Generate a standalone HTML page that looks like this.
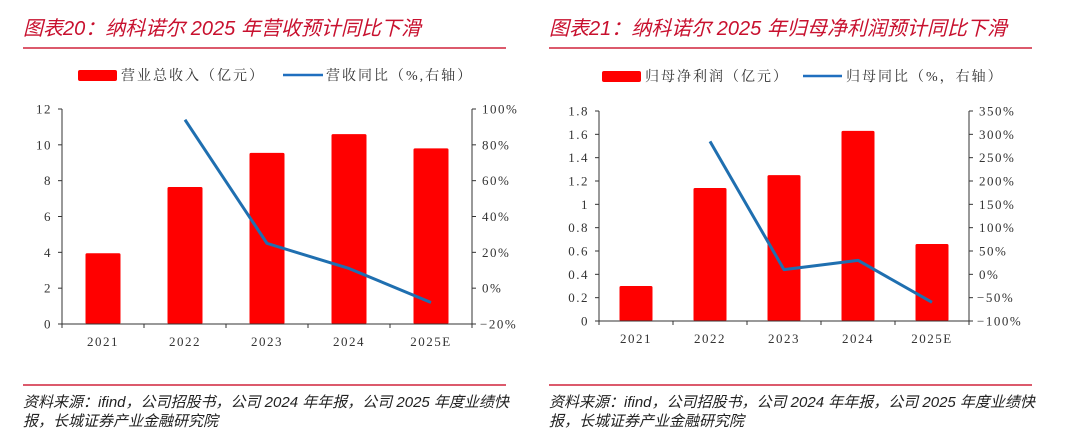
<!DOCTYPE html>
<html><head><meta charset="utf-8">
<style>
html,body{margin:0;padding:0;background:#fff;width:1080px;height:440px;overflow:hidden}
svg{display:block}
.t{font-family:"Liberation Sans","Noto Sans CJK SC",sans-serif;font-style:italic;fill:#c8102e;font-size:20px}
.s{font-family:"Liberation Sans","Noto Sans CJK SC",sans-serif;font-style:italic;fill:#222;font-size:15px}
.lg{font-family:"Liberation Serif","Noto Serif CJK SC",serif;fill:#333;font-size:14px;letter-spacing:2px}
.tk{font-family:"Liberation Serif","Noto Serif CJK SC",serif;fill:#333;font-size:13px;letter-spacing:1.5px}
</style></head><body>
<svg id="svg" width="1080" height="440" xmlns="http://www.w3.org/2000/svg">
<g>
<text class="t" x="23" y="35">图表20：纳科诺尔 2025 年营收预计同比下滑</text>
<line x1="23" y1="48" x2="506" y2="48" stroke="#d0243c" stroke-width="1.5"/>
<rect x="78" y="70" width="39" height="11" rx="2" fill="#ff0000"/>
<text class="lg" x="121" y="80">营业总收入（亿元）</text>
<line x1="283" y1="75" x2="323" y2="75" stroke="#1f6fbf" stroke-width="2.5"/>
<text class="lg" x="326" y="80">营收同比（%,右轴）</text>
<g id="c1"></g>
<line x1="23" y1="385" x2="506" y2="385" stroke="#d0243c" stroke-width="1.5"/>
<text class="s" x="23" y="407">资料来源：ifind，公司招股书，公司 2024 年年报，公司 2025 年度业绩快</text>
<text class="s" x="23" y="426">报，长城证券产业金融研究院</text>
</g>
<g>
<text class="t" x="549" y="35">图表21：纳科诺尔 2025 年归母净利润预计同比下滑</text>
<line x1="549" y1="48" x2="1032" y2="48" stroke="#d0243c" stroke-width="1.5"/>
<rect x="602" y="71" width="39" height="11" rx="2" fill="#ff0000"/>
<text class="lg" x="645" y="81">归母净利润（亿元）</text>
<line x1="803" y1="76" x2="842" y2="76" stroke="#1f6fbf" stroke-width="2.5"/>
<text class="lg" x="846" y="81">归母同比（%，右轴）</text>
<g id="c2"></g>
<line x1="549" y1="385" x2="1032" y2="385" stroke="#d0243c" stroke-width="1.5"/>
<text class="s" x="549" y="407">资料来源：ifind，公司招股书，公司 2024 年年报，公司 2025 年度业绩快</text>
<text class="s" x="549" y="426">报，长城证券产业金融研究院</text>
</g>
</svg>
<script>
const categories = ["2021","2022","2023","2024","2025E"];
const revenue = [3.95, 7.65, 9.55, 10.6, 9.8];
const revenueYoY = [null, 94, 25, 11, -8];
const revTicksL = ["0","2","4","6","8","10","12"];
const revTicksR = ["-20%","0%","20%","40%","60%","80%","100%"];
const profit = [0.3, 1.14, 1.25, 1.63, 0.66];
const profitYoY = [null, 285, 10, 30, -60];
const profTicksL = ["0","0.2","0.4","0.6","0.8","1","1.2","1.4","1.6","1.8"];
const profTicksR = ["-100%","-50%","0%","50%","100%","150%","200%","250%","300%","350%"];

const NS="http://www.w3.org/2000/svg";
function mk(p,tag,a){const e=document.createElementNS(NS,tag);for(const k in a)e.setAttribute(k,a[k]);p.appendChild(e);return e;}
function draw(gid,cfg){
  const g=document.getElementById(gid);
  const {x0,x1,y0,y1,lmin,lmax,rmin,rmax,bw,bars,line,tl,tr,pfx}=cfg;
  const yl=v=>y1-(v-lmin)/(lmax-lmin)*(y1-y0);
  const yr=v=>y1-(v-rmin)/(rmax-rmin)*(y1-y0);
  const cw=(x1-x0)/categories.length;
  const xc=i=>x0+cw*(i+0.5);
  const axL=mk(g,'line',{x1:x0,y1:y0,x2:x0,y2:y1,stroke:'#333'});
  
  
  const axR=mk(g,'line',{x1:x1,y1:y0,x2:x1,y2:y1,stroke:'#333'});
  
  
  tl.forEach((t,i)=>{
    const v=lmin+(lmax-lmin)*i/(tl.length-1);const y=yl(v);
    mk(g,'line',{x1:x0-4,y1:y,x2:x0,y2:y,stroke:'#333'});
    const tx=mk(g,'text',{x:x0-10,y:y+4.5,'text-anchor':'end',class:'tk'});tx.textContent=t;
    
    
  });
  tr.forEach((t,i)=>{
    const v=rmin+(rmax-rmin)*i/(tr.length-1);const y=yr(v);
    mk(g,'line',{x1:x1,y1:y,x2:x1+4,y2:y,stroke:'#333'});
    const tx=mk(g,'text',{x:x1+(t[0]=='-'?8:10),y:y+4.5,class:'tk'});tx.textContent=t.replace('-','−');
    
    
  });
  categories.forEach((c,i)=>{
    const r=mk(g,'rect',{x:xc(i)-bw/2,y:yl(bars[i]),width:bw,height:y1-yl(bars[i]),fill:'#ff0000',rx:1.5});
    
    
    mk(g,'line',{x1:x0+cw*i,y1:y1,x2:x0+cw*i,y2:y1+4,stroke:'#333'});
    const tx=mk(g,'text',{x:xc(i),y:y1+22,'text-anchor':'middle',class:'tk'});tx.textContent=c;
    
    
  });
  mk(g,'line',{x1:x1,y1:y1,x2:x1,y2:y1+4,stroke:'#333'});
  const xa=mk(g,'line',{x1:x0,y1:y1,x2:x1,y2:y1,stroke:'#333'});
  
  
  const pts=[];line.forEach((v,i)=>{if(v!==null)pts.push(xc(i)+','+yr(v));});
  const pl=mk(g,'polyline',{points:pts.join(' '),fill:'none',stroke:'#1f6fb0','stroke-width':3,'stroke-linejoin':'round'});
  
  
}
draw('c1',{x0:62,x1:472,y0:109,y1:324,lmin:0,lmax:12,rmin:-20,rmax:100,bw:35,bars:revenue,line:revenueYoY,tl:revTicksL,tr:revTicksR,pfx:'left'});
draw('c2',{x0:599,x1:969,y0:111,y1:321,lmin:0,lmax:1.8,rmin:-100,rmax:350,bw:33,bars:profit,line:profitYoY,tl:profTicksL,tr:profTicksR,pfx:'right'});
</script>
</body></html>
